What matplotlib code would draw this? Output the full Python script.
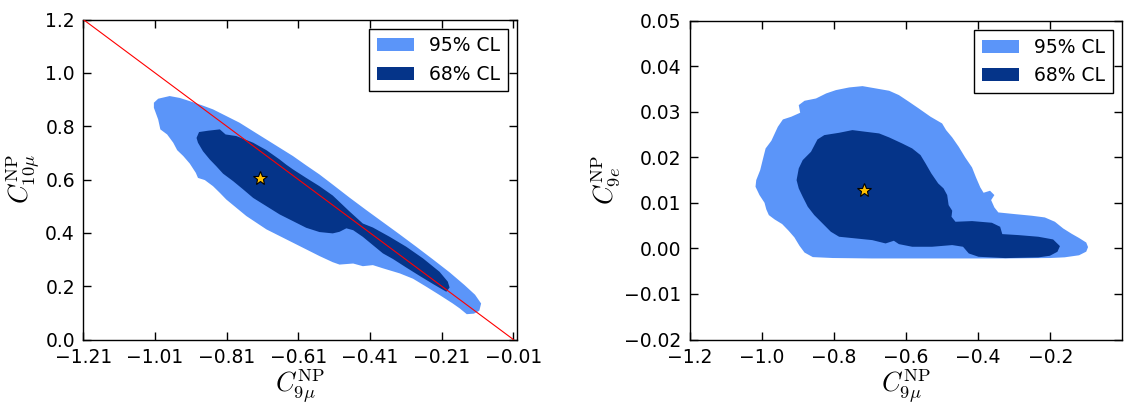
import matplotlib
matplotlib.use("Agg")
import matplotlib.pyplot as plt

plt.rcParams['mathtext.fontset'] = 'cm'
plt.rcParams['font.family'] = ['DejaVu Sans']

# ---------------- data ----------------
# Left panel: C9mu vs C10mu
left_95_x = [-1.013, -1.001, -0.969, -0.941, -0.913, -0.876, -0.848, -0.811, -0.774, -0.736,
             -0.699, -0.662, -0.625, -0.588, -0.551, -0.514, -0.467, -0.420, -0.374, -0.327,
             -0.281, -0.234, -0.188, -0.147, -0.117, -0.100, -0.105, -0.120, -0.140, -0.160,
             -0.179, -0.216, -0.253, -0.290, -0.327, -0.374, -0.402, -0.430, -0.457, -0.495,
             -0.514, -0.551, -0.588, -0.625, -0.662, -0.699, -0.727, -0.755, -0.783, -0.811,
             -0.829, -0.848, -0.871, -0.890, -0.896, -0.913, -0.931, -0.948, -0.959, -0.976,
             -0.995, -1.001, -1.013]
left_95_y = [0.888, 0.903, 0.913, 0.906, 0.894, 0.877, 0.863, 0.838, 0.813, 0.781,
             0.750, 0.719, 0.688, 0.653, 0.619, 0.581, 0.532, 0.485, 0.440, 0.394,
             0.348, 0.300, 0.252, 0.205, 0.168, 0.135, 0.108, 0.097, 0.095, 0.117,
             0.135, 0.167, 0.198, 0.228, 0.248, 0.267, 0.279, 0.275, 0.285, 0.281,
             0.290, 0.313, 0.338, 0.363, 0.388, 0.413, 0.438, 0.463, 0.494, 0.525,
             0.550, 0.575, 0.598, 0.606, 0.625, 0.660, 0.688, 0.710, 0.738, 0.769,
             0.788, 0.825, 0.869]

left_68_x = [-0.894, -0.887, -0.862, -0.829, -0.813, -0.783, -0.736, -0.699, -0.662, -0.644,
             -0.625, -0.588, -0.551, -0.514, -0.467, -0.430, -0.402, -0.355, -0.309, -0.262,
             -0.216, -0.193, -0.188, -0.197, -0.234, -0.272, -0.309, -0.346, -0.374, -0.402,
             -0.430, -0.457, -0.476, -0.495, -0.514, -0.551, -0.588, -0.625, -0.662, -0.699,
             -0.736, -0.764, -0.792, -0.820, -0.839, -0.857, -0.876, -0.890]
left_68_y = [0.756, 0.778, 0.783, 0.788, 0.769, 0.763, 0.738, 0.710, 0.675, 0.656,
             0.638, 0.606, 0.575, 0.540, 0.480, 0.435, 0.420, 0.385, 0.348, 0.304,
             0.254, 0.217, 0.195, 0.179, 0.208, 0.239, 0.270, 0.302, 0.323, 0.354,
             0.385, 0.410, 0.417, 0.404, 0.398, 0.403, 0.419, 0.444, 0.469, 0.500,
             0.531, 0.563, 0.594, 0.622, 0.650, 0.675, 0.706, 0.738]

line_x = [-1.21, -0.01]
line_y = [1.20, 0.00]

best_c9mu = -0.717
best_c10mu = 0.607
best_c9e = 0.0128

# Right panel: C9mu vs C9e
right_95_x = [-1.018, -1.016, -1.005, -0.997, -0.990, -0.974, -0.956, -0.942, -0.919, -0.894,
              -0.898, -0.882, -0.850, -0.822, -0.795, -0.758, -0.721, -0.684, -0.647, -0.620,
              -0.592, -0.565, -0.532, -0.500, -0.489, -0.472, -0.454, -0.436, -0.417, -0.406,
              -0.394, -0.385, -0.367, -0.355, -0.364, -0.355, -0.344, -0.298, -0.251, -0.215,
              -0.187, -0.164, -0.140, -0.120, -0.100, -0.095, -0.100, -0.120, -0.160, -0.200,
              -0.325, -0.509, -0.694, -0.804, -0.859, -0.882, -0.896, -0.910, -0.926, -0.944,
              -0.965, -0.981, -0.988, -0.993, -1.007]
right_95_y = [0.01355, 0.01501, 0.01721, 0.01977, 0.02196, 0.02365, 0.02672, 0.02833, 0.02892, 0.02980,
              0.03148, 0.03243, 0.03294, 0.03404, 0.03477, 0.03536, 0.03565, 0.03514, 0.03463, 0.03368,
              0.03221, 0.03075, 0.02892, 0.02745, 0.02599, 0.02438, 0.02233, 0.01999, 0.01779, 0.01559,
              0.01340, 0.01223, 0.01267, 0.01172, 0.01062, 0.00901, 0.00791, 0.00754, 0.00718, 0.00681,
              0.00586, 0.00439, 0.00320, 0.00230, 0.00130, 0.00030, -0.00070, -0.00150, -0.00195, -0.00210,
              -0.00220, -0.00220, -0.00220, -0.00210, -0.00190, -0.00090, 0.00059, 0.00242, 0.00388, 0.00535,
              0.00637, 0.00732, 0.00857, 0.01003, 0.01172]

right_68_x = [-0.904, -0.898, -0.887, -0.864, -0.846, -0.827, -0.786, -0.749, -0.712, -0.675,
              -0.647, -0.611, -0.583, -0.560, -0.546, -0.530, -0.511, -0.496, -0.486, -0.482,
              -0.472, -0.474, -0.463, -0.417, -0.362, -0.339, -0.333, -0.288, -0.233, -0.192,
              -0.173, -0.180, -0.201, -0.233, -0.325, -0.399, -0.426, -0.442, -0.472, -0.528,
              -0.583, -0.620, -0.634, -0.657, -0.694, -0.740, -0.786, -0.809, -0.832, -0.855,
              -0.873, -0.887, -0.898]
right_68_y = [0.01501, 0.01757, 0.01940, 0.02123, 0.02394, 0.02489, 0.02540, 0.02599, 0.02562, 0.02526,
              0.02438, 0.02306, 0.02196, 0.02050, 0.01867, 0.01647, 0.01428, 0.01318, 0.01172, 0.00952,
              0.00828, 0.00696, 0.00586, 0.00601, 0.00564, 0.00476, 0.00315, 0.00293, 0.00257, 0.00198,
              0.00051, -0.00073, -0.00161, -0.00197, -0.00212, -0.00183, -0.00110, 0.00037, 0.00074, 0.00037,
              0.00037, 0.00095, 0.00169, 0.00110, 0.00183, 0.00220, 0.00257, 0.00367, 0.00550, 0.00733,
              0.00916, 0.01135, 0.01318]

left_xticks = [-1.21, -1.01, -0.81, -0.61, -0.41, -0.21, -0.01]
left_yticks = [0.0, 0.2, 0.4, 0.6, 0.8, 1.0, 1.2]
right_xticks = [-1.2, -1.0, -0.8, -0.6, -0.4, -0.2]
right_yticks = [-0.02, -0.01, 0.00, 0.01, 0.02, 0.03, 0.04, 0.05]

labels = ["95% CL", "68% CL"]

# ---------------- styling ----------------
c95 = "#5b95f9"
c68 = "#053489"
star_c = "#ffbf00"
tick_fs = 13.5
label_fs = 19

fig = plt.figure(figsize=(11.27, 4.05), dpi=100)
axL = fig.add_axes([0.0739, 0.1617, 0.3848, 0.7901])
axR = fig.add_axes([0.6122, 0.1617, 0.3836, 0.7870])


def style(ax):
    ax.tick_params(direction='in', top=True, right=True, length=6, width=1.0,
                   labelsize=tick_fs, pad=6)
    for s in ax.spines.values():
        s.set_linewidth(1.0)


# Left panel
axL.fill(left_95_x, left_95_y, color=c95, lw=0, label=labels[0], zorder=1)
axL.fill(left_68_x, left_68_y, color=c68, lw=0, label=labels[1], zorder=2)
axL.plot(line_x, line_y, color='red', lw=0.8, zorder=3)
axL.plot([best_c9mu], [best_c10mu], marker='*', ms=10, color=star_c,
         mec='black', mew=0.8, ls='none', zorder=4)
axL.set_xlim(-1.21, 0.0)
axL.set_ylim(0.0, 1.2)
axL.set_xticks(left_xticks)
axL.set_yticks(left_yticks)
axL.set_xlabel(r'$C_{9\mu}^{\rm NP}$', fontsize=label_fs, labelpad=0)
axL.set_ylabel(r'$C_{10\mu}^{\rm NP}$', fontsize=label_fs, labelpad=2)
style(axL)

# Right panel
axR.fill(right_95_x, right_95_y, color=c95, lw=0, label=labels[0], zorder=1)
axR.fill(right_68_x, right_68_y, color=c68, lw=0, label=labels[1], zorder=2)
axR.plot([best_c9mu], [best_c9e], marker='*', ms=10, color=star_c,
         mec='black', mew=0.8, ls='none', zorder=4)
axR.set_xlim(-1.2, 0.0)
axR.set_ylim(-0.02, 0.05)
axR.set_xticks(right_xticks)
axR.set_yticks(right_yticks)
axR.set_xlabel(r'$C_{9\mu}^{\rm NP}$', fontsize=label_fs, labelpad=0)
axR.set_ylabel(r'$C_{9e}^{\rm NP}$', fontsize=label_fs, labelpad=2)
style(axR)

for ax in (axL, axR):
    leg = ax.legend(loc='upper right', fontsize=tick_fs, fancybox=False,
                    framealpha=1, edgecolor='black')
    leg.get_frame().set_linewidth(1.0)

fig.savefig("out.png", dpi=100)
